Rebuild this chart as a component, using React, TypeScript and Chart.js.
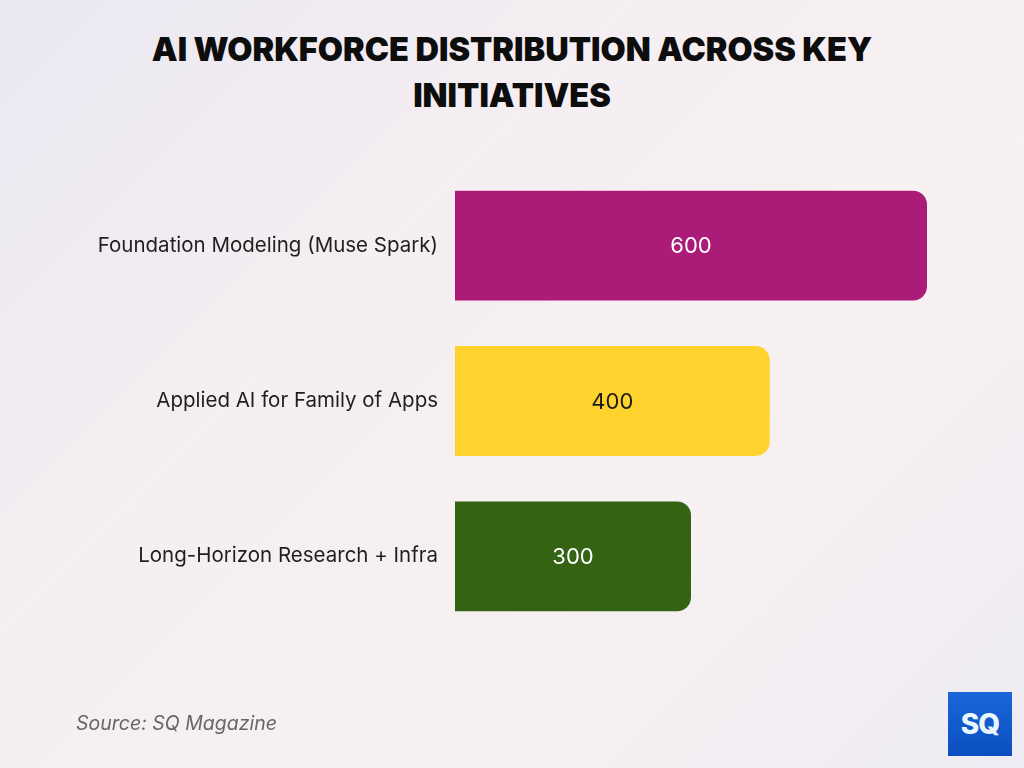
import React, { useEffect, useRef } from "react";
import { Chart, registerables } from "chart.js";

Chart.register(...registerables);

const categories = [
  "Foundation Modeling (Muse Spark)",
  "Applied AI for Family of Apps",
  "Long-Horizon Research + Infra",
];
const values = [600, 400, 300];
const barColors = ["#AA1C78", "#FFD22E", "#336313"];
const labelColors = ["#FFFFFF", "#1a1a1a", "#FFFFFF"];

const valueLabels = {
  id: "valueLabels",
  afterDatasetsDraw(chart: any) {
    const ctx = chart.ctx;
    const meta = chart.getDatasetMeta(0);
    ctx.save();
    ctx.font = "400 22px Inter, 'Noto Sans', sans-serif";
    ctx.textAlign = "center";
    ctx.textBaseline = "middle";
    meta.data.forEach((bar: any, i: number) => {
      const x = (bar.base + bar.x) / 2;
      ctx.fillStyle = labelColors[i];
      ctx.fillText(String(values[i]), x, bar.y + 1);
    });
    ctx.restore();
  },
};

export default function App() {
  const ref = useRef<HTMLCanvasElement>(null);
  useEffect(() => {
    document.body.style.margin = "0";
    const chart = new Chart(ref.current!, {
      type: "bar",
      data: {
        labels: categories,
        datasets: [
          {
            data: values,
            backgroundColor: barColors,
            borderRadius: 14,
            borderSkipped: "start",
            barPercentage: 0.707,
            categoryPercentage: 1,
          },
        ],
      },
      options: {
        indexAxis: "y",
        animation: false,
        responsive: false,
        maintainAspectRatio: false,
        layout: { padding: { left: 0, right: 97, top: 168, bottom: 134 } },
        plugins: {
          legend: { display: false },
          tooltip: { enabled: false },
        },
        scales: {
          x: { display: false, min: 0, max: 600 },
          y: {
            grid: { display: false },
            border: { display: false },
            ticks: {
              color: "#1f1f1f",
              font: { family: "Inter, 'Noto Sans', sans-serif", size: 20.5 },
              padding: 9,
            },
            afterFit(scale: any) {
              scale.width = 455;
            },
          },
        },
      },
      plugins: [valueLabels],
    });
    return () => chart.destroy();
  }, []);

  return (
    <div
      style={{
        position: "absolute",
        left: 0,
        top: 0,
        width: 1024,
        height: 768,
        overflow: "hidden",
        background:
          "linear-gradient(135deg, #eae8f2 0%, #f5eef2 35%, #f7f1f1 65%, #eeebf4 100%)",
        fontFamily: "Inter, 'Noto Sans', sans-serif",
      }}
    >
      <div
        style={{
          position: "absolute",
          left: 0,
          top: 27,
          width: 1024,
          textAlign: "center",
          fontSize: 32.5,
          fontWeight: 900,
          lineHeight: "46px",
          color: "#0d0d0d",
          letterSpacing: 0,
        }}
      >
        AI WORKFORCE DISTRIBUTION ACROSS KEY
        <br />
        INITIATIVES
      </div>
      <canvas
        ref={ref}
        width={1024}
        height={768}
        style={{ position: "absolute", left: 0, top: 0 }}
      />
      <div
        style={{
          position: "absolute",
          left: 76,
          top: 711,
          fontSize: 19.5,
          fontStyle: "italic",
          color: "#666666",
        }}
      >
        Source: SQ Magazine
      </div>
      <div
        style={{
          position: "absolute",
          left: 948,
          top: 692,
          width: 64,
          height: 64,
          background: "linear-gradient(180deg, #1a66d9 0%, #0b4fc0 100%)",
          color: "#eaf6ff",
          fontWeight: 800,
          fontSize: 28,
          display: "flex",
          alignItems: "center",
          justifyContent: "center",
          letterSpacing: -1,
        }}
      >
        SQ
      </div>
    </div>
  );
}
